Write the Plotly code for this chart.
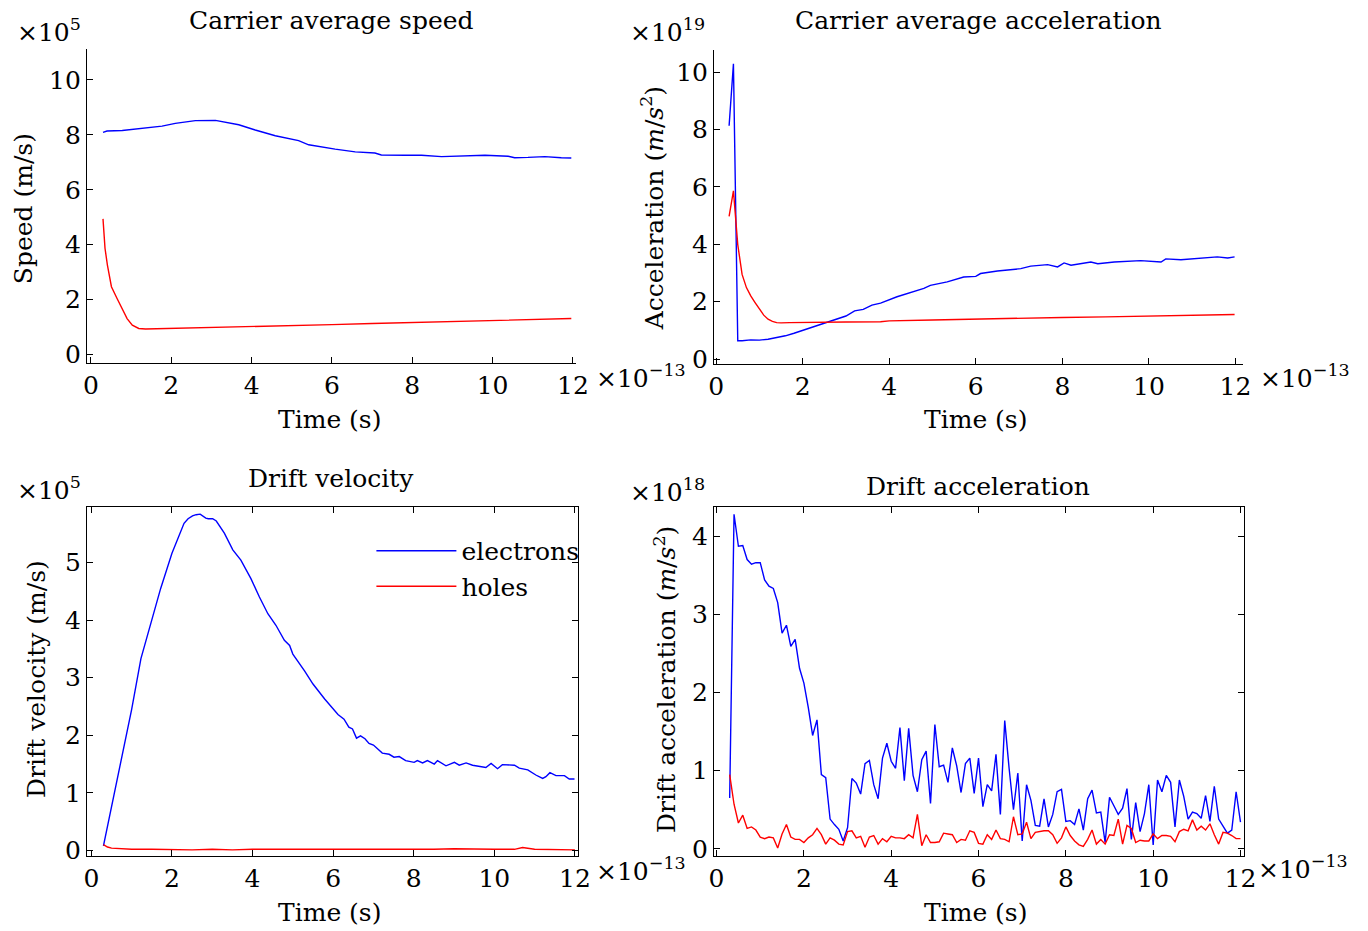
import numpy as np
import plotly.graph_objects as go

# ---------------- data (time in units of 1e-13 s) ----------------
# Carrier average speed (x1e5 m/s)
speed_e_t = [0.3, 0.4, 0.78, 1.19, 1.77, 2.1, 2.6, 3.1, 3.68, 4.09, 4.59, 5.17, 5.42, 6.08, 6.58,
             7.07, 7.23, 7.82, 8.23, 8.73, 9.06, 9.81, 10.39, 10.55, 10.88, 11.3, 11.71, 11.96]
speed_e = [8.09, 8.14, 8.16, 8.22, 8.32, 8.42, 8.52, 8.53, 8.37, 8.18, 7.97, 7.79, 7.64, 7.48, 7.38,
           7.34, 7.27, 7.26, 7.26, 7.21, 7.23, 7.26, 7.22, 7.17, 7.18, 7.21, 7.17, 7.16]
speed_h_t = [0.3, 0.35, 0.41, 0.51, 0.65, 0.78, 0.9, 1.03, 1.19, 1.36, 2.0, 3.0, 4.0, 4.92, 6.0,
             7.0, 8.23, 9.0, 10.0, 11.0, 11.96]
speed_h = [4.94, 3.87, 3.26, 2.47, 2.04, 1.68, 1.31, 1.07, 0.95, 0.93, 0.95, 0.98, 1.01, 1.05, 1.09,
           1.13, 1.17, 1.20, 1.24, 1.27, 1.31]

# Carrier average acceleration (x1e19 m/s^2)
acc_e_t = [0.3, 0.4, 0.5, 0.6, 0.8, 1.0, 1.2, 1.4, 1.6, 1.8, 2.0, 2.2, 2.4, 2.6, 2.8, 3.0, 3.2, 3.4,
           3.6, 3.8, 4.18, 4.57, 4.8, 4.95, 5.34, 5.72, 6.0, 6.11, 6.5, 7.04, 7.27, 7.66, 7.89, 8.04,
           8.2, 8.66, 8.82, 9.2, 9.81, 10.28, 10.39, 10.74, 11.51, 11.58, 11.82, 11.98]
acc_e = [8.13, 10.29, 0.64, 0.64, 0.67, 0.66, 0.69, 0.75, 0.81, 0.90, 1.00, 1.09, 1.19, 1.29, 1.39,
         1.50, 1.68, 1.73, 1.88, 1.95, 2.17, 2.34, 2.46, 2.57, 2.69, 2.86, 2.88, 2.98, 3.07, 3.15,
         3.24, 3.29, 3.21, 3.35, 3.27, 3.38, 3.32, 3.38, 3.43, 3.38, 3.49, 3.46, 3.53, 3.56, 3.52, 3.56]
acc_h_t = [0.3, 0.4, 0.5, 0.6, 0.7, 0.8, 0.9, 1.0, 1.1, 1.2, 1.3, 1.4, 1.5, 1.7, 2.0, 3.0, 3.8, 4.0,
           5.0, 6.11, 7.0, 7.66, 8.0, 9.0, 10.0, 11.0, 11.98]
acc_h = [4.97, 5.86, 3.99, 2.95, 2.49, 2.20, 1.97, 1.73, 1.53, 1.39, 1.31, 1.27, 1.26, 1.27, 1.27,
         1.29, 1.30, 1.33, 1.36, 1.40, 1.43, 1.46, 1.45, 1.47, 1.50, 1.53, 1.55]

# Drift velocity (x1e5 m/s)
dv_e_t = [0.3, 0.5, 0.73, 1.0, 1.23, 1.48, 1.72, 2.0, 2.14, 2.3, 2.4, 2.51, 2.6, 2.7, 2.84, 2.9, 3.01,
          3.1, 3.3, 3.51, 3.71, 3.96, 4.17, 4.38, 4.58, 4.79, 4.92, 5.0, 5.29, 5.5, 5.79, 6.0, 6.12,
          6.27, 6.39, 6.48, 6.58, 6.68, 6.79, 6.89, 7.0, 7.22, 7.39, 7.51, 7.64, 7.8, 8.01, 8.09, 8.22,
          8.34, 8.51, 8.59, 8.8, 9.01, 9.13, 9.3, 9.46, 9.79, 9.92, 10.08, 10.2, 10.5, 10.62, 10.83,
          11.03, 11.2, 11.28, 11.38, 11.53, 11.74, 11.86, 11.99]
dv_e = [0.08, 0.77, 1.52, 2.45, 3.33, 3.97, 4.55, 5.16, 5.42, 5.68, 5.76, 5.81, 5.83, 5.84, 5.77,
        5.76, 5.76, 5.72, 5.51, 5.22, 5.04, 4.72, 4.40, 4.11, 3.91, 3.65, 3.56, 3.41, 3.12, 2.89, 2.63,
        2.45, 2.36, 2.28, 2.14, 2.11, 1.95, 1.99, 1.94, 1.86, 1.83, 1.69, 1.67, 1.62, 1.63, 1.56, 1.53,
        1.56, 1.52, 1.56, 1.50, 1.56, 1.47, 1.53, 1.48, 1.52, 1.48, 1.44, 1.51, 1.42, 1.49, 1.48, 1.43,
        1.40, 1.31, 1.25, 1.28, 1.35, 1.30, 1.30, 1.24, 1.24]
dv_h_t = [0.3, 0.4, 0.5, 0.7, 1.0, 1.5, 2.0, 2.5, 3.0, 3.5, 4.0, 4.5, 5.0, 5.5, 6.0, 6.5, 7.0, 7.5,
          8.0, 8.5, 9.0, 9.5, 10.0, 10.5, 10.7, 11.0, 11.5, 12.0]
dv_h = [0.10, 0.06, 0.04, 0.03, 0.02, 0.02, 0.01, 0.01, 0.02, 0.01, 0.02, 0.02, 0.01, 0.02, 0.01,
        0.02, 0.01, 0.02, 0.01, 0.02, 0.03, 0.02, 0.02, 0.02, 0.05, 0.02, 0.02, 0.01]

# Drift acceleration (x1e18 m/s^2), sampled every 0.1e-13 s from 0.3 to 12.0
da_t = np.round(np.arange(0.3, 12.05, 0.1), 1)
da_e = [0.65, 4.28, 3.87, 3.88, 3.70, 3.64, 3.66, 3.66, 3.44, 3.36, 3.33, 3.15, 2.76, 2.86, 2.59,
        2.68, 2.31, 2.12, 1.81, 1.45, 1.65, 0.95, 0.91, 0.38, 0.31, 0.25, 0.10, 0.27, 0.90, 0.84,
        0.70, 1.09, 1.13, 0.82, 0.64, 1.16, 1.35, 1.12, 1.03, 1.55, 0.87, 1.54, 0.94, 0.73, 1.14,
        1.25, 0.58, 1.59, 1.05, 1.07, 0.85, 1.29, 1.06, 0.72, 1.09, 1.16, 0.71, 1.16, 0.54, 0.82,
        0.74, 1.21, 0.44, 1.64, 1.03, 0.50, 0.97, 0.10, 0.82, 0.62, 0.30, 0.29, 0.64, 0.28, 0.44,
        0.73, 0.76, 0.35, 0.36, 0.31, 0.51, 0.24, 0.64, 0.75, 0.46, 0.47, 0.08, 0.66, 0.55, 0.44,
        0.52, 0.77, 0.12, 0.59, 0.22, 0.45, 0.82, 0.05, 0.88, 0.73, 0.94, 0.85, 0.28, 0.88, 0.67,
        0.38, 0.47, 0.45, 0.39, 0.68, 0.35, 0.80, 0.38, 0.29, 0.20, 0.24, 0.73, 0.34]
da_h = [0.95, 0.57, 0.33, 0.43, 0.26, 0.28, 0.24, 0.15, 0.13, 0.15, 0.14, 0.01, 0.19, 0.31, 0.15,
        0.12, 0.12, 0.08, 0.14, 0.18, 0.26, 0.18, 0.06, 0.14, 0.11, 0.06, 0.05, 0.22, 0.23, 0.14,
        0.16, 0.02, 0.15, 0.17, 0.06, 0.13, 0.09, 0.16, 0.14, 0.14, 0.13, 0.18, 0.14, 0.44, 0.04,
        0.18, 0.08, 0.08, 0.09, 0.20, 0.19, 0.18, 0.08, 0.12, 0.11, 0.23, 0.21, 0.07, 0.06, 0.18,
        0.12, 0.24, 0.13, 0.12, 0.09, 0.41, 0.18, 0.19, 0.34, 0.13, 0.21, 0.22, 0.23, 0.23, 0.18,
        0.07, 0.14, 0.28, 0.17, 0.10, 0.05, 0.03, 0.12, 0.24, 0.06, 0.12, 0.06, 0.18, 0.17, 0.38,
        0.06, 0.30, 0.26, 0.08, 0.11, 0.10, 0.10, 0.19, 0.13, 0.17, 0.17, 0.16, 0.09, 0.22, 0.25,
        0.23, 0.37, 0.24, 0.29, 0.24, 0.32, 0.18, 0.06, 0.21, 0.20, 0.17, 0.13, 0.13]

x_ticks = [0, 2, 4, 6, 8, 10, 12]

# ---------------- figure ----------------
W, H = 1368, 931
FONT = "DejaVu Serif"
FS = 25
BLUE = "#0000ff"
RED = "#ff0000"

# screen-pixel -> paper-fraction (compensates the small rescaling seen in the rendered page)
def px(X):
    return ((X - 7.2) / 0.9845) / W

def py(Y):
    return 1 - ((Y - 2.0) / 0.9875) / H

fig = go.Figure()

def add(xs, ys, color, ax, name=None, show=False):
    fig.add_trace(go.Scatter(x=xs, y=ys, mode="lines", line=dict(color=color, width=1.4),
                             xaxis="x" + ax, yaxis="y" + ax, name=name, showlegend=show))

add(speed_e_t, speed_e, BLUE, "")
add(speed_h_t, speed_h, RED, "")
add(acc_e_t, acc_e, BLUE, "2")
add(acc_h_t, acc_h, RED, "2")
add(dv_e_t, dv_e, BLUE, "3", "electrons", True)
add(dv_h_t, dv_h, RED, "3", "holes", True)
add(da_t, da_e, BLUE, "4")
add(da_t, da_h, RED, "4")

def axis(domain, rng, tickvals, anchor, mirror):
    return dict(domain=domain, range=rng, tickvals=tickvals, anchor=anchor,
                showline=True, linecolor="black", linewidth=1, mirror=mirror,
                ticks="inside", ticklen=6, tickcolor="black", tickwidth=1,
                showgrid=False, zeroline=False,
                tickfont=dict(family=FONT, size=FS, color="black"))

layout = dict(
    width=W, height=H, margin=dict(l=0, r=0, t=0, b=0),
    paper_bgcolor="white", plot_bgcolor="white",
    font=dict(family=FONT, size=FS, color="black"),
    xaxis=axis([px(88), px(576)], [-0.1, 12.07], x_ticks, "y", False),
    yaxis=axis([py(364.4), py(50.6)], [-0.31, 11.14], [0, 2, 4, 6, 8, 10], "x", False),
    xaxis2=axis([px(714), px(1242)], [-0.05, 12.17], x_ticks, "y2", False),
    yaxis2=axis([py(365), py(51.6)], [-0.16, 10.78], [0, 2, 4, 6, 8, 10], "x2", False),
    xaxis3=axis([px(88), px(578)], [-0.11, 12.07], x_ticks, "y3", "ticks"),
    yaxis3=axis([py(856.7), py(508.3)], [-0.10, 5.96], [0, 1, 2, 3, 4, 5], "x3", "ticks"),
    xaxis4=axis([px(714), px(1243.6)], [-0.06, 12.09], x_ticks, "y4", "ticks"),
    yaxis4=axis([py(856.7), py(508.3)], [-0.095, 4.37], [0, 1, 2, 3, 4], "x4", "ticks"),
    legend=dict(x=px(372), y=py(529), xanchor="left", yanchor="top",
                bgcolor="rgba(0,0,0,0)", font=dict(family=FONT, size=FS),
                itemwidth=80, tracegroupgap=0),
)
fig.update_layout(**layout)

def ann(text, x, y, xanchor="center", yanchor="middle", angle=0):
    fig.add_annotation(text=text, x=px(x), y=py(y), xref="paper", yref="paper",
                       xanchor=xanchor, yanchor=yanchor, textangle=angle, showarrow=False,
                       font=dict(family=FONT, size=FS, color="black"))

# titles
ann("Carrier average speed", 332, 22)
ann("Carrier average acceleration", 978, 22)
ann("Drift velocity", 332, 480)
ann("Drift acceleration", 978, 488)
# axis titles
ann("Time (s)", 330, 421)
ann("Time (s)", 975, 421)
ann("Time (s)", 330, 913)
ann("Time (s)", 975, 913)
ann("Speed (m/s)", 25, 210, angle=-90)
ann("Acceleration (<i>m</i>/<i>s</i><sup>2</sup>)", 653, 210, angle=-90)
ann("Drift velocity (m/s)", 37, 680, angle=-90)
ann("Drift acceleration (<i>m</i>/<i>s</i><sup>2</sup>)", 665, 680, angle=-90)
# exponents
ann("×10<sup>5</sup>", 16, 32, xanchor="left")
ann("×10<sup>19</sup>", 628, 32, xanchor="left")
ann("×10<sup>5</sup>", 16, 490, xanchor="left")
ann("×10<sup>18</sup>", 628, 492, xanchor="left")
ann("×10<sup>−13</sup>", 594, 378, xanchor="left")
ann("×10<sup>−13</sup>", 1257, 378, xanchor="left")
ann("×10<sup>−13</sup>", 594, 870, xanchor="left")
ann("×10<sup>−13</sup>", 1255, 868, xanchor="left")

fig.write_html("out.html",
               post_script="document.body.style.margin='0';document.body.style.overflow='hidden';")
